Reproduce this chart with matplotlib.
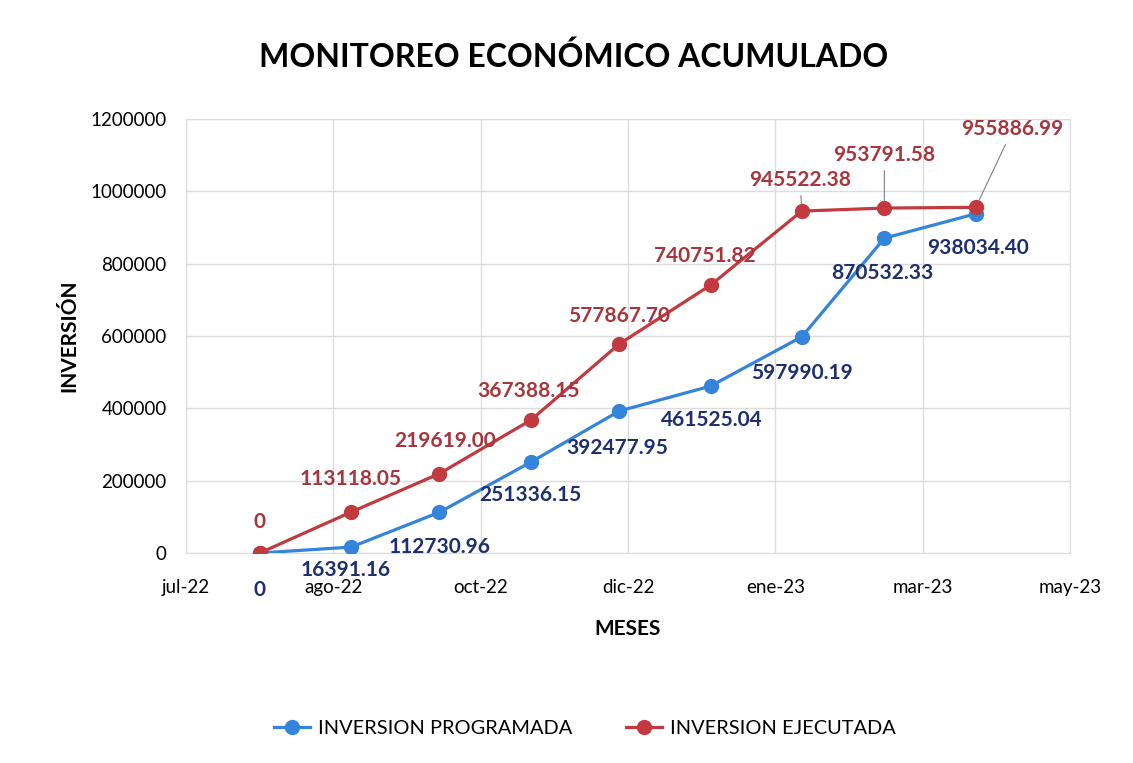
import numpy as np
import matplotlib.pyplot as plt
from matplotlib.ticker import StrMethodFormatter

plt.rcParams["font.family"] = ["Lato", "DejaVu Sans"]

## data

meses = ["2022-08-01", "2022-09-01", "2022-10-01", "2022-11-01", "2022-12-01",
         "2023-01-01", "2023-02-01", "2023-03-01", "2023-04-01"]
programada = [0, 16391.16, 112730.96, 251336.15, 392477.95,
              461525.04, 597990.19, 870532.33, 938034.40]
ejecutada = [0, 113118.05, 219619.00, 367388.15, 577867.70,
             740751.82, 945522.38, 953791.58, 955886.99]
tick_labels = ["jul-22", "ago-22", "oct-22", "dic-22", "ene-23", "mar-23", "may-23"]

## axis in days from start of the date axis

inicio = np.datetime64("2022-07-07")
x = (np.array(meses, dtype="datetime64[D]") - inicio).astype(int)
ticks = np.arange(len(tick_labels)) * 50

azul, azul_txt = "#3584dc", "#1d2f6e"
rojo, rojo_txt = "#c23a40", "#a8353b"

fig = plt.figure(figsize=(11.33, 7.63), dpi=100)
ax = fig.add_axes([0.1642, 0.2752, 0.7802, 0.5688])

ax.plot(x, programada, color=azul, lw=2.3, marker="o", ms=10,
        label="INVERSION PROGRAMADA", zorder=3)
ax.plot(x, ejecutada, color=rojo, lw=2.3, marker="o", ms=10,
        label="INVERSION EJECUTADA", zorder=4)

ax.set_xlim(ticks[0], ticks[-1])
ax.set_ylim(0, 1200000)
ax.set_xticks(ticks)
ax.set_xticklabels(tick_labels)
ax.set_yticks(np.arange(0, 1200001, 200000))
ax.yaxis.set_major_formatter(StrMethodFormatter("{x:.0f}"))
ax.tick_params(length=0, labelsize=13.5)
ax.tick_params(axis="x", pad=19)
ax.tick_params(axis="y", pad=14)
ax.grid(True, color="#dcdcdc", lw=1)
for s in ax.spines.values():
    s.set_color("#dcdcdc")
ax.set_axisbelow(True)

## value labels: red above, blue below (pixel offsets)

off_rojo = [(0, 31), (0, 33), (6, 33), (-2, 29), (0, 28),
            (-6, 29), (-2, 31), (0, 53), (37, 78)]
off_azul = [(0, -37), (-5, -23), (0, -35), (0, -33), (-2, -37),
            (1, -34), (0, -36), (-2, -35), (2, -34)]

for i, (xi, v) in enumerate(zip(x, ejecutada)):
    txt = "0" if v == 0 else f"{v:.2f}"
    dx, dy = off_rojo[i]
    props = None
    if i >= 6:
        props = dict(arrowstyle="-", color="#808080", lw=0.8, shrinkA=2, shrinkB=5)
    ax.annotate(txt, (xi, v), xytext=(dx * 0.72, dy * 0.72), textcoords="offset points",
                ha="center", va="center", fontsize=15, fontweight="bold",
                color=rojo_txt, arrowprops=props, zorder=5)

for i, (xi, v) in enumerate(zip(x, programada)):
    txt = "0" if v == 0 else f"{v:.2f}"
    dx, dy = off_azul[i]
    ax.annotate(txt, (xi, v), xytext=(dx * 0.72, dy * 0.72), textcoords="offset points",
                ha="center", va="center", fontsize=15, fontweight="bold",
                color=azul_txt, zorder=5)

fig.text(0.506, 0.925, "MONITOREO ECONÓMICO ACUMULADO", ha="center", va="center",
         fontsize=23, fontweight="bold")
ax.set_ylabel("INVERSIÓN", fontsize=15, fontweight="bold", labelpad=8)
ax.set_xlabel("MESES", fontsize=15, fontweight="bold", labelpad=16)

fig.legend(loc="center", bbox_to_anchor=(0.516, 0.045), ncol=2, frameon=False,
           fontsize=14.4, handlelength=1.8, handletextpad=0.4, columnspacing=2.7)

fig.savefig("out.png", dpi=100)
